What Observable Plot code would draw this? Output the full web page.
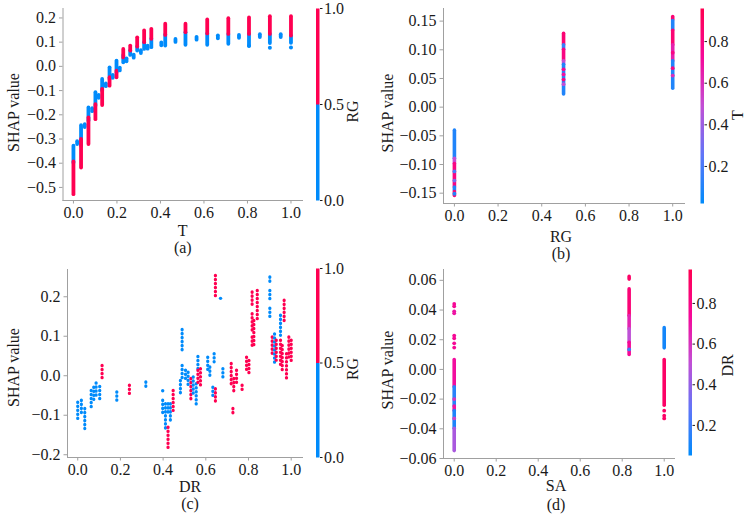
<!DOCTYPE html>
<html>
<head>
<meta charset="utf-8">
<script src="https://cdn.jsdelivr.net/npm/d3@7"></script>
<script src="https://cdn.jsdelivr.net/npm/@observablehq/plot@0.6"></script>
<style>
  html, body { margin: 0; padding: 0; background: #fff; }
  #fig { position: relative; width: 754px; height: 515px; overflow: hidden; background: #fff; }
  #fig > svg { position: absolute; background: transparent; overflow: visible; }
</style>
</head>
<body>
<div id="fig"></div>
<script>
// ---------- data ----------
const BLUE = "#008bfb", RED = "#ff0051";
// SHAP red_blue colour map stops (blue -> violet -> magenta -> red)
const shapStops = ["#008bfb", "#6175f8", "#c24fd5", "#f60899", "#ff0051"];
const xTicks = [0, 0.2, 0.4, 0.6, 0.8, 1.0];
const aYTicks = [-0.5, -0.4, -0.3, -0.2, -0.1, 0, 0.1, 0.2];
const bYTicks = [-0.15, -0.10, -0.05, 0, 0.05, 0.10, 0.15];
const cYTicks = [-0.2, -0.1, 0, 0.1, 0.2];
const dYTicks = [-0.06, -0.04, -0.02, 0, 0.02, 0.04, 0.06];
const rgTicks = [0, 0.5, 1.0];
const contTicks = [0.2, 0.4, 0.6, 0.8];

// panel (a): x = T, colour = RG ; strips [T, yTop, yBottom, RG]
const aStrips = [
  [0.000, -0.330, -0.400, 0], [0.000, -0.395, -0.530, 1],
  [0.017, -0.311, -0.323, 0],
  [0.035, -0.245, -0.330, 0], [0.035, -0.302, -0.420, 1],
  [0.052, -0.241, -0.253, 0],
  [0.069, -0.172, -0.227, 0], [0.069, -0.213, -0.323, 1],
  [0.086, -0.175, -0.187, 0],
  [0.101, -0.109, -0.165, 0], [0.101, -0.158, -0.220, 1],
  [0.116, -0.120, -0.132, 0],
  [0.132, -0.054, -0.102, 0], [0.132, -0.095, -0.162, 1],
  [0.149, -0.072, -0.084, 0],
  [0.166, -0.006, -0.054, 0], [0.166, -0.047, -0.082, 1],
  [0.181, -0.037, -0.049, 0],
  [0.198, 0.022, -0.027, 0], [0.198, -0.020, -0.047, 1],
  [0.213, -0.007, -0.019, 0],
  [0.229, 0.045, 0.015, 0], [0.229, 0.070, 0.035, 1],
  [0.244, 0.031, 0.019, 0],
  [0.261, 0.065, 0.045, 0], [0.261, 0.084, 0.063, 1],
  [0.277, 0.046, 0.034, 0],
  [0.293, 0.080, 0.063, 0], [0.293, 0.118, 0.080, 1],
  [0.310, 0.065, 0.053, 0],
  [0.325, 0.098, 0.070, 0], [0.325, 0.146, 0.098, 1],
  [0.341, 0.083, 0.071, 0],
  [0.358, 0.112, 0.077, 0], [0.358, 0.153, 0.112, 1],
  [0.404, 0.097, 0.085, 0],
  [0.422, 0.130, 0.084, 0], [0.422, 0.174, 0.128, 1],
  [0.469, 0.111, 0.099, 0],
  [0.515, 0.139, 0.087, 0], [0.515, 0.174, 0.139, 1],
  [0.566, 0.120, 0.108, 0],
  [0.615, 0.134, 0.087, 0], [0.615, 0.192, 0.134, 1],
  [0.664, 0.126, 0.114, 0],
  [0.712, 0.132, 0.091, 0], [0.712, 0.197, 0.132, 1],
  [0.761, 0.128, 0.116, 0],
  [0.807, 0.132, 0.084, 0], [0.807, 0.200, 0.132, 1],
  [0.857, 0.131, 0.119, 0],
  [0.903, 0.132, 0.094, 0], [0.903, 0.205, 0.132, 1],
  [0.953, 0.131, 0.119, 0],
  [1.000, 0.125, 0.095, 0], [1.000, 0.205, 0.125, 1]
];
const aDots = [
  [0.903, 0.077, 0], [1.000, 0.078, 0], [0.807, 0.084, 0]
];

// panel (b): x = RG, colour = T ; strips [RG, yTop, yBottom, T]
const bStrips = [
  [0, -0.041, -0.090, 0.10], [0, -0.090, -0.099, 0.50], [0, -0.099, -0.140, 0.80],
  [0, -0.140, -0.146, 0.10], [0, -0.148, -0.155, 0.85],
  [0.5, 0.128, 0.108, 0.85], [0.5, 0.108, 0.100, 0.15], [0.5, 0.100, 0.080, 0.80],
  [0.5, 0.080, 0.074, 0.50], [0.5, 0.074, 0.022, 0.10],
  [1, 0.157, 0.152, 0.85], [1, 0.150, 0.135, 0.10], [1, 0.133, 0.108, 0.85],
  [1, 0.108, 0.080, 0.65], [1, 0.080, 0.032, 0.10]
];
const bDots = [
  [0, -0.112, 0.20], [0, -0.128, 0.30], [0, -0.151, 0.10],
  [0.5, 0.066, 0.75], [0.5, 0.057, 0.70], [0.5, 0.048, 0.80], [0.5, 0.040, 0.50],
  [1, 0.095, 0.80], [1, 0.068, 0.80], [1, 0.055, 0.60]
];

// panel (c): x = DR, colour = RG ; strips [DR, yTop, yBottom, RG]
const cStrips = [
  [0.000, -0.068, -0.110, 0], [0.017, -0.063, -0.097, 0], [0.033, -0.084, -0.135, 0],
  [0.063, -0.038, -0.080, 0], [0.075, -0.030, -0.063, 0], [0.086, -0.019, -0.055, 0],
  [0.103, -0.028, -0.063, 0], [0.114, 0.025, -0.008, 1], [0.183, -0.042, -0.072, 0],
  [0.242, -0.025, -0.051, 1], [0.319, -0.017, -0.034, 0], [0.398, -0.063, -0.101, 0],
  [0.411, -0.072, -0.135, 0], [0.423, -0.072, -0.097, 0], [0.423, -0.131, -0.190, 1],
  [0.434, -0.072, -0.122, 0], [0.447, -0.038, -0.089, 1], [0.481, -0.013, -0.046, 0],
  [0.489, 0.116, 0.063, 0], [0.489, 0.025, -0.008, 0], [0.505, 0.013, -0.017, 0],
  [0.517, 0.008, -0.025, 0], [0.530, -0.008, -0.063, 1], [0.541, -0.004, -0.046, 0],
  [0.555, -0.021, -0.076, 0], [0.563, 0.048, 0.008, 0], [0.563, 0.013, -0.025, 1],
  [0.575, 0.017, -0.030, 1], [0.609, 0.046, 0.008, 0], [0.619, 0.021, -0.004, 0],
  [0.633, -0.030, -0.059, 0], [0.639, 0.055, 0.034, 0], [0.645, -0.034, -0.072, 1],
  [0.645, 0.253, 0.198, 1], [0.680, 0.017, -0.013, 0], [0.719, 0.030, -0.030, 1],
  [0.727, -0.084, -0.097, 1], [0.731, -0.008, -0.046, 1], [0.744, 0.013, -0.021, 1],
  [0.770, -0.025, -0.042, 1], [0.791, 0.046, 0.013, 1], [0.802, 0.038, 0.004, 1],
  [0.817, 0.211, 0.173, 1], [0.817, 0.156, 0.114, 1], [0.817, 0.097, 0.072, 1],
  [0.825, 0.139, 0.072, 1], [0.841, 0.215, 0.139, 1], [0.900, 0.249, 0.230, 0],
  [0.900, 0.215, 0.190, 0], [0.900, 0.170, 0.148, 0], [0.911, 0.097, 0.055, 1],
  [0.922, 0.105, 0.030, 0], [0.930, 0.089, 0.038, 1], [0.950, 0.152, 0.101, 0],
  [0.950, 0.089, 0.021, 1], [0.958, 0.076, 0.013, 1], [0.967, 0.190, 0.131, 1],
  [0.978, 0.055, -0.008, 1], [0.989, 0.097, 0.046, 1], [1.000, 0.089, 0.030, 1]
];
const cDots = [
  [0.398, -0.038, 0], [0.669, 0.196, 0]
];

// panel (d): x = SA, colour = DR ; strips [SA, yTop, yBottom, DR]
const dStrips = [
  [0, 0.0063, -0.012, 0.72], [0, -0.012, -0.025, 0.15], [0, -0.025, -0.028, 0.70],
  [0, -0.028, -0.040, 0.12], [0, -0.040, -0.055, 0.45],
  [0.833, 0.0623, 0.0605, 0.90], [0.833, 0.0539, 0.036, 0.85], [0.833, 0.036, 0.027, 0.65],
  [0.833, 0.027, 0.018, 0.50], [0.833, 0.018, 0.0097, 0.75],
  [1, 0.0278, 0.0142, 0.10], [1, 0.0063, -0.0244, 0.90]
];
const dDots = [
  [0, 0.0441, 0.75], [0, 0.0425, 0.75], [0, 0.0391, 0.70], [0, 0.0378, 0.70],
  [0, 0.0228, 0.75], [0, 0.0210, 0.75], [0, 0.0176, 0.75], [0, 0.0147, 0.75],
  [0, -0.020, 0.60], [0, -0.033, 0.55],
  [0.833, 0.0135, 0.20],
  [1, -0.0278, 0.90], [1, -0.0312, 0.90], [1, -0.0330, 0.90]
];

// ---------- drawing ----------
const FONT = "Liberation Serif, Times New Roman, serif";
const FS = 16;
const AXIS = "#a0a0a0", INK = "#1a1a1a";
const baseStyle = {background: "transparent", overflow: "visible"};
const txt = {fontFamily: FONT, fontSize: FS, fill: INK};

const shapInterp = d3.piecewise(d3.interpolateRgb, shapStops);
const rgColor = {type: "threshold", domain: [0.5], range: [BLUE, RED]};
const tColor = {type: "linear", domain: [0.022, 0.959], interpolate: shapInterp};
const drColor = {type: "linear", domain: [0.052, 0.967], interpolate: shapInterp};

const fig = document.getElementById("fig");
function place(el, left, top) {
  el.style.left = left + "px";
  el.style.top = top + "px";
  fig.appendChild(el);
}

function panel(o) {
  return Plot.plot({
    width: o.w, height: o.h,
    marginLeft: o.ml, marginRight: o.mr, marginTop: o.mt, marginBottom: o.mb,
    style: baseStyle,
    x: {domain: o.xd},
    y: {domain: o.yd},
    color: o.color,
    marks: [
      Plot.frame({anchor: "left", stroke: AXIS}),
      Plot.frame({anchor: "bottom", stroke: AXIS}),
      Plot.axisX({ticks: xTicks, tickFormat: ".1f", tickSize: 3.5, tickPadding: 2.5, stroke: AXIS, label: null, ...txt}),
      Plot.axisY({ticks: o.yTicks, tickFormat: o.yFmt, tickSize: 3.5, tickPadding: 3.5, stroke: AXIS, label: null, ...txt}),
      Plot.ruleX(o.strips, {x: d => d[0], y1: d => d[1], y2: d => d[2], stroke: d => d[3],
        strokeWidth: o.sw, strokeLinecap: "round", strokeDasharray: o.dash}),
      Plot.dot(o.dots, {x: d => d[0], y: d => d[1], fill: d => d[2], r: o.r}),
      Plot.text([o.yLabel], {text: d => d, frameAnchor: "left", dx: o.ylx, dy: o.yly, rotate: -90,
        textAnchor: "middle", lineAnchor: "middle", ...txt}),
      Plot.text([o.xLabel], {text: d => d, frameAnchor: "bottom", dx: o.xlx, dy: o.xly,
        textAnchor: "middle", lineAnchor: "middle", ...txt}),
      Plot.text([o.caption], {text: d => d, frameAnchor: "bottom", dx: o.xlx, dy: o.cy,
        textAnchor: "middle", lineAnchor: "middle", ...txt})
    ]
  });
}

function colorbar(o) {
  return Plot.plot({
    width: o.w, height: o.h,
    marginLeft: o.ml, marginRight: o.mr, marginTop: o.mt, marginBottom: o.mb,
    style: baseStyle,
    x: {domain: [0, 1], axis: null},
    y: {domain: o.domain},
    color: o.color,
    marks: [
      Plot.raster({x1: 0, x2: 1, y1: o.domain[0], y2: o.domain[1], width: 1, height: 300, fill: (x, y) => y}),
      Plot.axisY({anchor: "right", ticks: o.ticks, tickFormat: ".1f", tickSize: 2.5, tickPadding: 2, stroke: INK, label: null, ...txt}),
      Plot.text([o.label], {text: d => d, frameAnchor: "right", dx: o.lx, dy: o.ly, rotate: -90,
        textAnchor: "middle", lineAnchor: "middle", ...txt})
    ]
  });
}

// (a)
place(panel({w: 310, h: 262, ml: 62.5, mr: 8, mt: 8, mb: 62,
  xd: [-0.048, 1.053], yd: [-0.554, 0.239], yTicks: aYTicks, yFmt: ".1f",
  strips: aStrips, dots: aDots, color: rgColor, sw: 3.8, r: 2, dash: null,
  yLabel: "SHAP value", ylx: -49.2, yly: 8, xLabel: "T", xlx: 0, xly: 30, caption: "(a)", cy: 47.5}), 0, 0);
place(colorbar({w: 67, h: 208, ml: 5.5, mr: 58, mt: 8, mb: 8, domain: [0, 1], ticks: rgTicks,
  color: rgColor, label: "RG", lx: 33, ly: 7}), 310, 0);

// (b)
place(panel({w: 310, h: 265, ml: 63, mr: 6, mt: 8, mb: 62,
  xd: [-0.050, 1.054], yd: [-0.168, 0.172], yTicks: bYTicks, yFmt: ".2f",
  strips: bStrips, dots: bDots, color: tColor, sw: 3.6, r: 1.9, dash: null,
  yLabel: "SHAP value", ylx: -56, yly: 7, xLabel: "RG", xlx: -3, xly: 33, caption: "(b)", cy: 50.5}), 380, 0);
place(colorbar({w: 60, h: 211, ml: 6, mr: 50.5, mt: 8, mb: 8, domain: [0.022, 0.959], ticks: contTicks,
  color: tColor, label: "T", lx: 33.5, ly: 9}), 694, 0);

// (c)
place(panel({w: 310, h: 258, ml: 67, mr: 8, mt: 12, mb: 58,
  xd: [-0.048, 1.053], yd: [-0.207, 0.269], yTicks: cYTicks, yFmt: ".1f",
  strips: cStrips, dots: cDots, color: rgColor, sw: 3.2, r: 1.7, dash: "0.4,3.6",
  yLabel: "SHAP value", ylx: -53.7, yly: 4, xLabel: "DR", xlx: 5, xly: 29, caption: "(c)", cy: 46.5}), 0, 257);
place(colorbar({w: 67, h: 205, ml: 5.5, mr: 58, mt: 8, mb: 8, domain: [0, 1], ticks: rgTicks,
  color: rgColor, label: "RG", lx: 33, ly: 6}), 310, 260);

// (d)
place(panel({w: 300, h: 258, ml: 63, mr: 6, mt: 12, mb: 57,
  xd: [-0.051, 1.049], yd: [-0.060, 0.0673], yTicks: dYTicks, yFmt: ".2f",
  strips: dStrips, dots: dDots, color: drColor, sw: 3.6, r: 1.9, dash: null,
  yLabel: "SHAP value", ylx: -56, yly: 6, xLabel: "SA", xlx: -3, xly: 27.5, caption: "(d)", cy: 46}), 380, 257);
place(colorbar({w: 72, h: 202, ml: 6, mr: 62.5, mt: 8, mb: 8, domain: [0.052, 0.967], ticks: contTicks,
  color: drColor, label: "DR", lx: 35.5, ly: 3}), 682, 261);
</script>
</body>
</html>
